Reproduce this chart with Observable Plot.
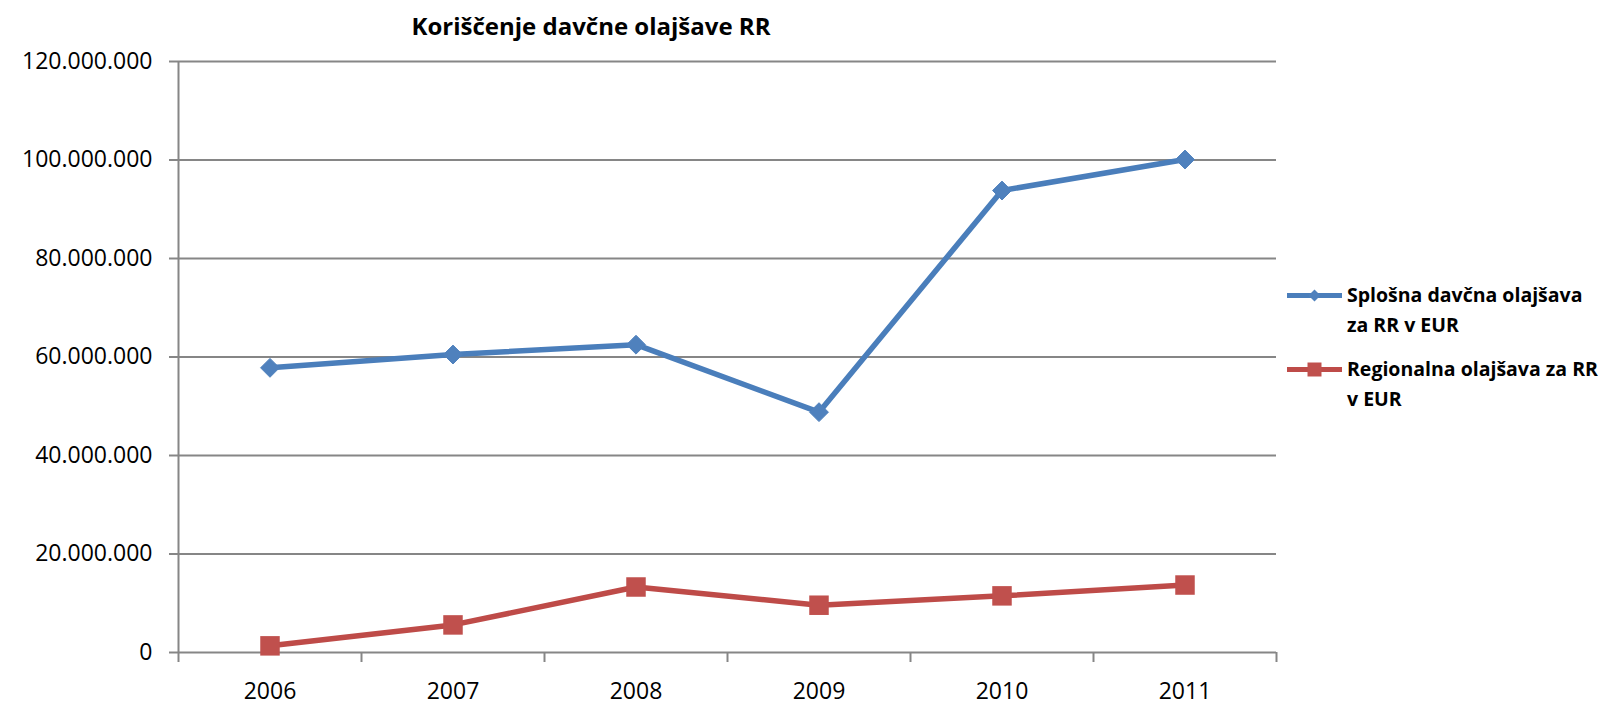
<!DOCTYPE html>
<html>
<head>
<meta charset="utf-8">
<script src="https://cdn.jsdelivr.net/npm/d3@7"></script>
<script src="https://cdn.jsdelivr.net/npm/@observablehq/plot@0.6"></script>
<style>
  html, body { margin: 0; padding: 0; background: #fff; }
  #wrap { position: relative; width: 1601px; height: 705px; font-family: "Open Sans", sans-serif; color: #000; }
  #title { position: absolute; left: 591px; top: 14px; transform: translateX(-50%); font-size: 24px; font-weight: bold; line-height: 1; white-space: nowrap; }
  .leg { position: absolute; left: 1287px; font-size: 19.5px; font-weight: bold; line-height: 30px; white-space: nowrap; }
  .leg svg { position: absolute; left: 0; top: 0; }
  .leg span { position: absolute; left: 60px; top: 0; }
</style>
</head>
<body>
<div id="wrap">
  <div id="title">Koriščenje davčne olajšave RR</div>
  <div id="chart"></div>
  <div class="leg" id="leg1" style="top:280px;"></div>
  <div class="leg" id="leg2" style="top:354px;"></div>
</div>
<script>
const years = [2006, 2007, 2008, 2009, 2010, 2011];
const splosna = [57800000, 60500000, 62500000, 48800000, 93800000, 100100000];
const regionalna = [1350000, 5600000, 13300000, 9600000, 11500000, 13700000];
const yTicks = [0, 20000000, 40000000, 60000000, 80000000, 100000000, 120000000];
const seriesNames = ["Splošna davčna olajšava za RR v EUR", "Regionalna olajšava za RR v EUR"];
const legendLines = [["Splošna davčna olajšava", "za RR v EUR"], ["Regionalna olajšava za RR", "v EUR"]];
const colors = { line: ["#4A7EBB", "#BE4B48"], marker: ["#4F81BD", "#C0504D"] };

const bounds = years.map(y => y - 0.5).concat([years[years.length - 1] + 0.5]);
const dataA = years.map((y, i) => ({ year: y, value: splosna[i], series: seriesNames[0] }));
const dataB = years.map((y, i) => ({ year: y, value: regionalna[i], series: seriesNames[1] }));
const fmt = d => d3.format(",.0f")(d).replace(/,/g, ".");
const gridColor = "#868686";

const chart = Plot.plot({
  width: 1601,
  height: 705,
  marginLeft: 178,
  marginRight: 325,
  marginTop: 61,
  marginBottom: 53,
  style: { fontFamily: "Open Sans, sans-serif", fontSize: "23px", color: "#000", background: "#fff" },
  x: { type: "linear", domain: [bounds[0], bounds[bounds.length - 1]], axis: null },
  y: { domain: [0, 120000000], axis: null },
  marks: [
    Plot.gridY(yTicks, { stroke: gridColor, strokeOpacity: 1, strokeWidth: 2 }),
    Plot.ruleX([bounds[0]], { stroke: gridColor, strokeWidth: 2 }),
    Plot.axisY(yTicks, { label: null, tickSize: 9, tickPadding: 17, fontSize: 23, tickFormat: fmt, stroke: gridColor, strokeWidth: 2, fill: "#000" }),
    Plot.axisX(bounds, { label: null, tickSize: 10, tickFormat: () => "", stroke: gridColor, strokeWidth: 2 }),
    Plot.axisX(years, { label: null, tickSize: 0, tickPadding: 30, fontSize: 23, tickFormat: d => String(d), fill: "#000", strokeOpacity: 0 }),
    Plot.line(dataA, { x: "year", y: "value", stroke: colors.line[0], strokeWidth: 5.5 }),
    Plot.dot(dataA, { x: "year", y: "value", symbol: "diamond2", r: 8.5, fill: colors.marker[0], stroke: colors.marker[0], strokeWidth: 1 }),
    Plot.line(dataB, { x: "year", y: "value", stroke: colors.line[1], strokeWidth: 5.5 }),
    Plot.dot(dataB, { x: "year", y: "value", symbol: "square", r: 11, fill: colors.marker[1], stroke: "none" })
  ]
});
document.getElementById("chart").appendChild(chart);

function legendItem(el, i, sym) {
  const ns = "http://www.w3.org/2000/svg";
  const svg = document.createElementNS(ns, "svg");
  svg.setAttribute("width", 56);
  svg.setAttribute("height", 30);
  const ln = document.createElementNS(ns, "line");
  ln.setAttribute("x1", 0); ln.setAttribute("x2", 55);
  ln.setAttribute("y1", 15.5); ln.setAttribute("y2", 15.5);
  ln.setAttribute("stroke", colors.line[i]); ln.setAttribute("stroke-width", 5);
  svg.appendChild(ln);
  const p = document.createElementNS(ns, "path");
  p.setAttribute("d", sym === "diamond" ? "M27.5,9.5L33.5,15.5L27.5,21.5L21.5,15.5Z" : "M20.5,8.5H34.5V22.5H20.5Z");
  p.setAttribute("fill", colors.marker[i]);
  svg.appendChild(p);
  el.appendChild(svg);
  const sp = document.createElement("span");
  sp.innerHTML = legendLines[i].join("<br>");
  el.appendChild(sp);
}
legendItem(document.getElementById("leg1"), 0, "diamond");
legendItem(document.getElementById("leg2"), 1, "square");
</script>
</body>
</html>
